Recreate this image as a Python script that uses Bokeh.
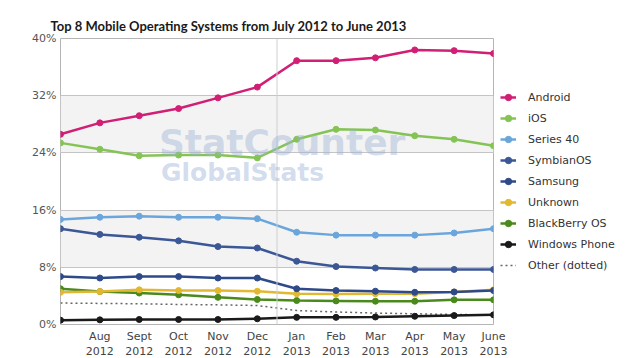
from bokeh.plotting import figure
from bokeh.models import (FixedTicker, Span, Legend, LegendItem, Label, Range1d)
from bokeh.embed import file_html
from bokeh.resources import INLINE

months = ["Jul", "Aug", "Sept", "Oct", "Nov", "Dec", "Jan", "Feb", "Mar", "Apr", "May", "June"]
years = ["2012"] * 6 + ["2013"] * 6

android = [26.6, 28.2, 29.2, 30.2, 31.7, 33.2, 36.9, 36.9, 37.3, 38.4, 38.3, 37.9]
ios = [25.4, 24.5, 23.6, 23.7, 23.7, 23.3, 25.9, 27.3, 27.2, 26.4, 25.9, 25.0]
series40 = [14.7, 15.0, 15.15, 15.0, 15.0, 14.8, 12.9, 12.5, 12.5, 12.5, 12.8, 13.4]
symbian = [13.4, 12.6, 12.2, 11.7, 10.9, 10.7, 8.85, 8.1, 7.9, 7.7, 7.7, 7.7]
samsung = [6.7, 6.5, 6.7, 6.7, 6.5, 6.5, 5.0, 4.75, 4.65, 4.5, 4.55, 4.75]
unknown = [4.5, 4.6, 4.85, 4.75, 4.75, 4.65, 4.3, 4.25, 4.3, 4.3, 4.55, 4.85]
blackberry = [5.0, 4.6, 4.4, 4.15, 3.8, 3.5, 3.35, 3.3, 3.25, 3.25, 3.45, 3.45]
windows = [0.6, 0.65, 0.7, 0.7, 0.7, 0.8, 1.0, 1.0, 1.05, 1.15, 1.25, 1.35]
other = [3.0, 2.95, 2.9, 2.8, 2.75, 2.65, 1.95, 1.75, 1.6, 1.5, 1.4, 1.35]

series_names = ["Android", "iOS", "Series 40", "SymbianOS", "Samsung", "Unknown",
                "BlackBerry OS", "Windows Phone"]
series_values = [android, ios, series40, symbian, samsung, unknown, blackberry, windows]
series_colors = ["#d01f75", "#84c455", "#6aa6dc", "#3b5796", "#2e4a88", "#e2b833",
                 "#4a8a1d", "#1a1a1a"]

y_ticks = [0, 8, 16, 24, 32, 40]

x = list(range(len(months)))

p = figure(frame_width=433, frame_height=286, output_backend="svg", toolbar_location=None,
           x_range=Range1d(0, len(months) - 1), y_range=Range1d(0, 40),
           min_border_left=60, min_border_right=0, min_border_top=38,
           min_border_bottom=34, background_fill_color="white",
           border_fill_color="white", outline_line_color="#b5b5b5")

p.title.text = "Top 8 Mobile Operating Systems from July 2012 to June 2013"
p.title.text_font = "Lato"
p.title.text_font_size = "13px"
p.title.text_font_style = "bold"
p.title.text_color = "#1a1a1a"
p.title.align = "left"
p.title.offset = -10
p.title.standoff = 10

# axes
for ax in (p.xaxis, p.yaxis):
    ax.axis_line_color = None
    ax.major_tick_line_color = None
    ax.minor_tick_line_color = None
    ax.major_tick_out = 0
    ax.major_tick_in = 0
    ax.minor_tick_out = 0
    ax.minor_tick_in = 0
    ax.major_label_text_font = "DejaVu Sans"
    ax.major_label_text_font_size = "11px"

p.yaxis.ticker = FixedTicker(ticks=y_ticks)
p.yaxis.major_label_overrides = {t: f"{t}%" for t in y_ticks}
p.yaxis.major_label_text_color = "#555555"
p.yaxis.major_label_standoff = 4

p.xaxis.ticker = FixedTicker(ticks=x[1:])
p.xaxis.major_label_overrides = {i: f"{months[i]}\n{years[i]}" for i in x[1:]}
p.xaxis.major_label_text_color = "#444444"
p.xaxis.major_label_standoff = 5

p.xgrid.grid_line_color = None
p.ygrid.grid_line_color = "#c4c4c4"
p.ygrid.band_fill_color = "#f3f3f3"
p.ygrid.band_fill_alpha = 1.0

# year separator
p.add_layout(Span(location=months.index("Jan") - 0.5, dimension="height",
                  line_color="#cfcfcf", line_width=1))

# watermark
p.add_layout(Label(x=2.5, y=22.6, text="StatCounter", text_font="DejaVu Sans",
                   text_font_style="bold", text_font_size="36px",
                   text_color="#9db3d6", text_alpha=0.45))
p.add_layout(Label(x=2.55, y=19.2, text="GlobalStats", text_font="DejaVu Sans",
                   text_font_style="bold", text_font_size="25px",
                   text_color="#9db3d6", text_alpha=0.45))

items = []
oth = p.line(x, other, line_color="#666666", line_width=1.5, line_dash="2 3")
for name, vals, col in zip(series_names[::-1], series_values[::-1], series_colors[::-1]):
    r1 = p.line(x, vals, line_color=col, line_width=2.5)
    r2 = p.scatter(x, vals, size=6, fill_color=col, line_color=col)
    items.append(LegendItem(label=name, renderers=[r1, r2]))
items = items[::-1]
items.append(LegendItem(label="Other (dotted)", renderers=[oth]))

legend = Legend(items=items, location="left", orientation="vertical",
                border_line_color=None, background_fill_alpha=0,
                label_text_font="DejaVu Sans", label_text_font_size="11px",
                label_text_color="#333333", glyph_width=16, glyph_height=21,
                label_height=21, spacing=0, padding=0, margin=7,
                label_standoff=12)
p.add_layout(legend, "right")

open("out.html", "w").write(file_html(p, INLINE))
